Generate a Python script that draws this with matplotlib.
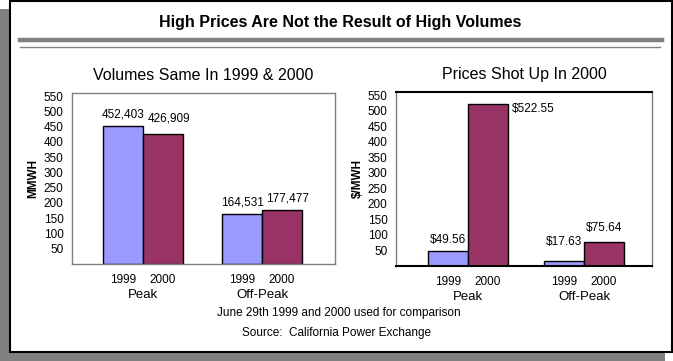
import matplotlib.pyplot as plt
from matplotlib.patches import Rectangle
from matplotlib.lines import Line2D

plt.rcParams['font.family'] = ['Liberation Sans', 'DejaVu Sans']

# data
groups = ['Peak', 'Off-Peak']
years = ['1999', '2000']
volume_1999 = [452.403, 164.531]   # thousand MWH
volume_2000 = [426.909, 177.477]
volume_labels_1999 = ['452,403', '164,531']
volume_labels_2000 = ['426,909', '177,477']
price_1999 = [49.56, 17.63]        # $/MWH
price_2000 = [522.55, 75.64]
yticks = [50, 100, 150, 200, 250, 300, 350, 400, 450, 500, 550]

c1999 = '#9999FF'
c2000 = '#993366'
gray = '#808080'

W, H = 673, 361
fig = plt.figure(figsize=(W / 100, H / 100), dpi=100)
fig.patch.set_facecolor('white')

def fx(px):
    return px / W

def fy(py):
    return 1 - py / H

# frame with shadow
fig.patches.append(Rectangle((fx(0), fy(361)), fx(665), 352 / H, transform=fig.transFigure,
                             facecolor=gray, edgecolor='none', zorder=0))
fig.patches.append(Rectangle((fx(9.5), fy(352)), fx(662), 351 / H, transform=fig.transFigure,
                             facecolor='white', edgecolor='black', linewidth=1.5, zorder=1))
fig.lines.append(Line2D([fx(20), fx(662)], [fy(40), fy(40)], transform=fig.transFigure,
                        color=gray, linewidth=3.2, zorder=2))
fig.lines.append(Line2D([fx(20), fx(660)], [fy(47), fy(47)], transform=fig.transFigure,
                        color=gray, linewidth=1, zorder=2))

fig.text(fx(340), fy(22), 'High Prices Are Not the Result of High Volumes',
         family=['Liberation Sans Narrow', 'Liberation Sans'], fontweight='bold',
         fontsize=11.5, ha='center', va='center', zorder=3)


def draw_panel(rect, v1, v2, title, ylabel, xlim, width):
    ax = fig.add_axes(rect)
    ax.set_zorder(3)
    x = list(range(len(groups)))
    ax.bar([i - width / 2 for i in x], v1, width, color=c1999, edgecolor='black', linewidth=1)
    ax.bar([i + width / 2 for i in x], v2, width, color=c2000, edgecolor='black', linewidth=1)
    ax.set_xlim(*xlim)
    ax.set_ylim(0, 560)
    ax.set_yticks(yticks)
    ax.tick_params(axis='y', length=0, pad=6, labelsize=8.5)
    ticks = []
    labels = []
    for i in x:
        ticks += [i - width / 2, i + width / 2]
        labels += years
    ax.set_xticks(ticks)
    ax.set_xticklabels(labels)
    ax.tick_params(axis='x', which='major', length=0, pad=7, labelsize=8.5)
    ax.set_xticks(x, minor=True)
    ax.set_xticklabels(groups, minor=True)
    ax.tick_params(axis='x', which='minor', length=0, pad=18, labelsize=9.5)
    ax.set_title(title, fontsize=11.5, pad=9)
    ax.set_ylabel(ylabel, fontweight='bold', fontsize=8.5, labelpad=3)
    for s in ax.spines.values():
        s.set_color(gray)
        s.set_linewidth(1)
    return ax, width


ax1, w1 = draw_panel([fx(72), fy(264), 263 / W, 171 / H], volume_1999, volume_2000,
                     'Volumes Same In 1999 & 2000', 'MMWH', (-0.597, 1.613), 0.336)
for i in range(len(groups)):
    ax1.annotate(volume_labels_1999[i], (i - w1 / 2, volume_1999[i]), xytext=(0, 4),
                 textcoords='offset points', ha='center', va='bottom', fontsize=8.5)
    ax1.annotate(volume_labels_2000[i], (i + w1 / 2 + 0.05, max(volume_2000[i], volume_1999[i])),
                 xytext=(0, 1 if i == 0 else 4), textcoords='offset points',
                 ha='center', va='bottom', fontsize=8.5)

ax2, w2 = draw_panel([fx(396), fy(266), 256 / W, 174 / H], price_1999, price_2000,
                     'Prices Shot Up In 2000', '$/MWH', (-0.621, 1.586), 0.345)
ax2.spines['top'].set_color('black')
ax2.spines['top'].set_linewidth(1.5)
ax2.spines['bottom'].set_color('black')
ax2.spines['bottom'].set_linewidth(1.5)
ax2.annotate('$%.2f' % price_1999[0], (0 - w2 / 2, price_1999[0]), xytext=(0, 3),
             textcoords='offset points', ha='center', va='bottom', fontsize=8.5)
ax2.annotate('$%.2f' % price_2000[0], (0 + w2, price_2000[0]), xytext=(3, -4),
             textcoords='offset points', ha='left', va='center', fontsize=8.5)
ax2.annotate('$%.2f' % price_1999[1], (1 - w2 / 2, price_1999[1]), xytext=(0, 9),
             textcoords='offset points', ha='center', va='bottom', fontsize=8.5)
ax2.annotate('$%.2f' % price_2000[1], (1 + w2 / 2, price_2000[1]), xytext=(0, 6),
             textcoords='offset points', ha='center', va='bottom', fontsize=8.5)

fig.text(fx(339), fy(313), 'June 29th 1999 and 2000 used for comparison',
         fontsize=8.5, ha='center', va='center', zorder=3)
fig.text(fx(336), fy(333), 'Source:  California Power Exchange',
         fontsize=8.5, ha='center', va='center', zorder=3)

fig.savefig('out.png', dpi=100)
